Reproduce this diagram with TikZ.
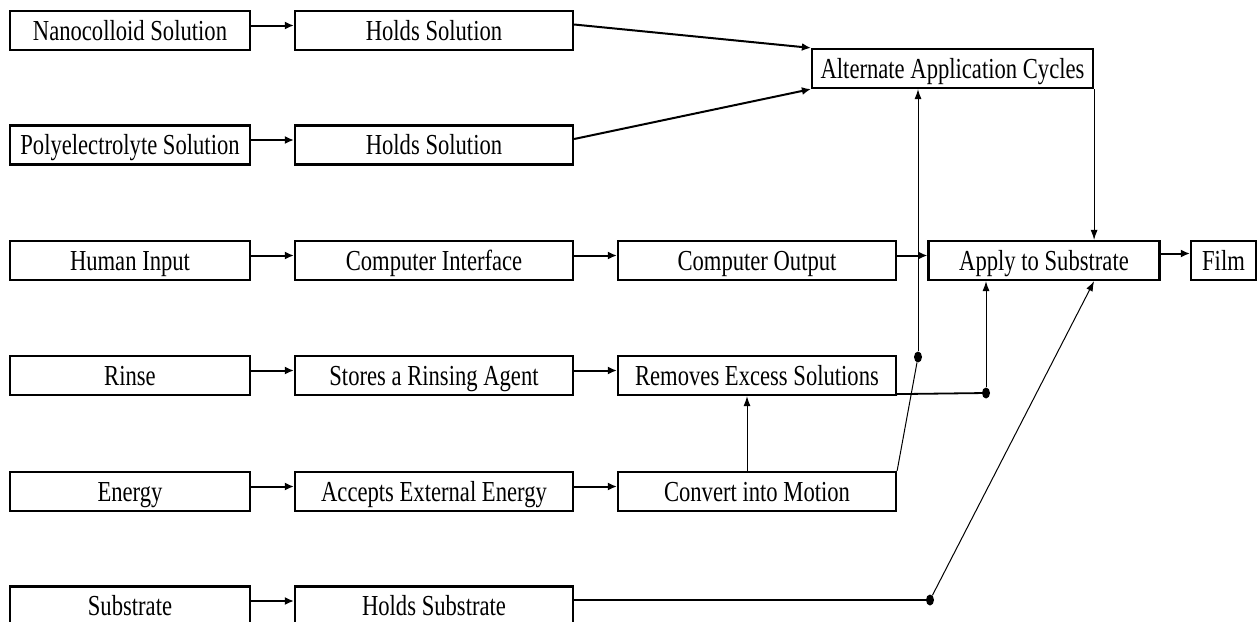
\documentclass[tikz,border=0pt]{standalone}
\usepackage{fontspec}
\setmainfont{Liberation Serif}[FakeStretch=0.78]
\usetikzlibrary{arrows.meta,shapes.geometric}
\tikzset{
  box/.style={draw=black, line width=2.2pt, fill=white, inner sep=0pt,
    minimum height=39pt, text height=19pt, text depth=0pt,
    font=\fontsize{29}{34}\selectfont},
  colA/.style={box, minimum width=240pt},
  colB/.style={box, minimum width=278pt},
  thickarrow/.style={line width=2pt, -{Latex[length=9pt,width=8pt]}},
  thinarrow/.style={line width=1pt, -{Latex[length=10pt,width=7pt]}},
  thinline/.style={line width=1pt},
  thickline/.style={line width=1.8pt},
  dot/.style={ellipse, fill=black, inner sep=0pt, minimum width=8pt, minimum height=11pt}
}
\begin{document}
\begin{tikzpicture}[x=1pt,y=-1pt]
\useasboundingbox (0,0) rectangle (1257,621);
% column A
\node[colA] (a1) at (130,30.5) {Nanocolloid Solution};
\node[colA] (a2) at (130,145) {Polyelectrolyte Solution};
\node[colA] (a3) at (130,260.5) {Human Input};
\node[colA] (a4) at (130,375.5) {Rinse};
\node[colA] (a5) at (130,491.5) {Energy};
\node[colA] (a6) at (130,606) {Substrate};
% column B
\node[colB] (b1) at (434,30.5) {Holds Solution};
\node[colB] (b2) at (434,145) {Holds Solution};
\node[colB] (b3) at (434,260.5) {Computer Interface};
\node[colB] (b4) at (434,375.5) {Stores a Rinsing Agent};
\node[colB] (b5) at (434,491.5) {Accepts External Energy};
\node[colB] (b6) at (434,606) {Holds Substrate};
% column C
\node[colB] (c3) at (757,260.5) {Computer Output};
\node[colB] (c4) at (757,375.5) {Removes Excess Solutions};
\node[colB] (c5) at (757,491.5) {Convert into Motion};
% right part
\node[box, minimum width=281pt] (alt) at (952.5,68.5) {Alternate Application Cycles};
\node[box, minimum width=231pt] (apply) at (1044,260.5) {Apply to Substrate};
\node[box, minimum width=65pt] (film) at (1223.5,260.5) {Film};
% dots
\node[dot] (d1) at (918,357) {};
\node[dot] (d2) at (986,393) {};
\node[dot] (d3) at (930,600) {};
% row arrows
\foreach \r in {1,...,6}{
  \draw[thickarrow] ([yshift=5pt]a\r.east) -- ([yshift=5pt]b\r.west);
}
\draw[thickarrow] ([yshift=5pt]b3.east) -- ([yshift=5pt]c3.west);
\draw[thickarrow] ([yshift=5pt]b4.east) -- ([yshift=5pt]c4.west);
\draw[thickarrow] ([yshift=5pt]b5.east) -- ([yshift=5pt]c5.west);
\draw[thickarrow] ([yshift=5pt]c3.east) -- ([yshift=5pt]apply.west);
\draw[thickarrow] ([yshift=7pt]apply.east) -- ([yshift=7pt]film.west);
% into alternate
\draw[thickarrow] ([yshift=6pt]b1.east) -- (alt.north west);
\draw[thickarrow] ([yshift=6pt]b2.east) -- (alt.south west);
% alternate to apply
\draw[thinarrow] (alt.south east) -- (alt.south east |- apply.north);
% motion junction
\draw[thinline] (c5.north east) -- (d1);
\draw[thinarrow] (d1.north) -- (d1 |- alt.south);
% removes junction
\draw[thickline] ([yshift=2pt]c4.south east) -- (d2);
\draw[thinarrow] (d2) -- (d2 |- apply.south);
% convert to removes
\draw[thinarrow] ([xshift=-10pt]c5.north) -- ([xshift=-10pt]c4.south);
% substrate junction
\draw[thickline] ([yshift=6pt]b6.east) -- (d3);
\draw[thinarrow] (d3) -- (alt.south east |- apply.south);
\end{tikzpicture}
\end{document}
